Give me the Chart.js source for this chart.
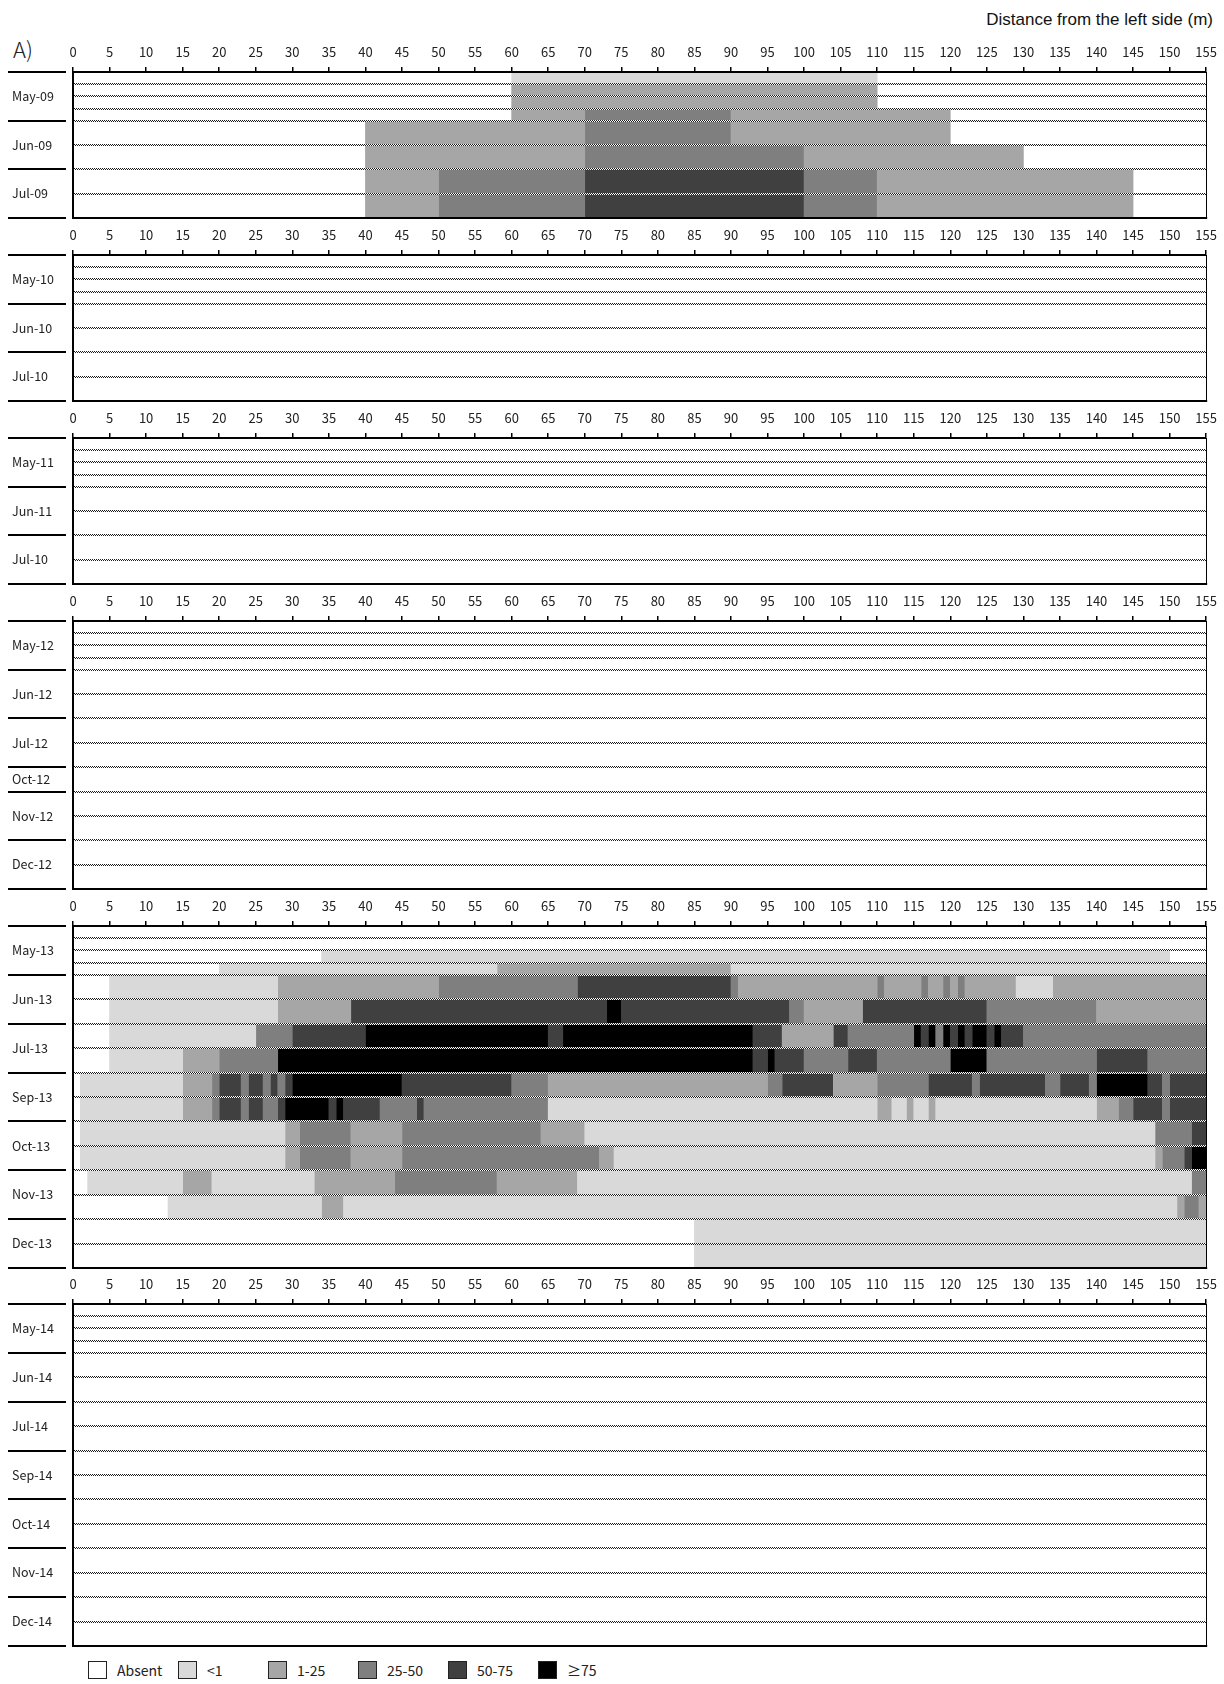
<!DOCTYPE html>
<html>
<head>
<meta charset="utf-8">
<title>Cover along the transect, 2009–2014</title>
<script src="https://cdn.jsdelivr.net/npm/chart.js@4.4.1/dist/chart.umd.min.js"></script>
<style>
  html, body { margin: 0; padding: 0; background: #fff; }
  body { width: 1224px; height: 1684px; position: relative; overflow: hidden;
         font-family: 'Noto Sans CJK JP', 'Noto Sans', sans-serif; }
  canvas { position: absolute; left: 0; }
  #axisTitle { position: absolute; right: 11px; top: 10px; line-height: 20px;
               font-family: 'Liberation Sans', Arial, sans-serif; font-size: 17px; color: #111; }
  #panelTag { position: absolute; left: 13px; top: 35px; line-height: 26px;
              font-size: 22px; font-weight: 300; color: #222; }
  #legend { position: absolute; left: 0; top: 1661px; width: 1224px; height: 20px; }
  .item { position: absolute; top: 0; height: 18px; }
  .swatch { position: absolute; left: 0; top: 0; width: 19px; height: 18px;
            box-sizing: border-box; border: 1px solid #222; }
  .text { position: absolute; left: 29px; top: -2px; line-height: 22px; font-size: 14px;
          color: #222; white-space: nowrap; }
</style>
</head>
<body>
<div id="axisTitle">Distance from the left side (m)</div>
<div id="panelTag">A)</div>
<div id="legend"></div>

<script>
// ---- tick labels and cover classes ----
const distanceTicks = [0, 5, 10, 15, 20, 25, 30, 35, 40, 45, 50, 55, 60, 65, 70, 75,
                       80, 85, 90, 95, 100, 105, 110, 115, 120, 125, 130, 135, 140, 145, 150, 155];
const coverClasses = ['Absent', '<1', '1-25', '25-50', '50-75', '\u226575'];

// ---- survey months per year and number of survey rows in each month ----
const months2009 = ['May-09', 'Jun-09', 'Jul-09'];
const surveys2009 = [4, 2, 2];
const months2010 = ['May-10', 'Jun-10', 'Jul-10'];
const surveys2010 = [4, 2, 2];
const months2011 = ['May-11', 'Jun-11', 'Jul-10'];
const surveys2011 = [4, 2, 2];
const months2012 = ['May-12', 'Jun-12', 'Jul-12', 'Oct-12', 'Nov-12', 'Dec-12'];
const surveys2012 = [4, 2, 2, 1, 2, 2];
const months2013 = ['May-13', 'Jun-13', 'Jul-13', 'Sep-13', 'Oct-13', 'Nov-13', 'Dec-13'];
const surveys2013 = [4, 2, 2, 2, 2, 2, 2];
const months2014 = ['May-14', 'Jun-14', 'Jul-14', 'Sep-14', 'Oct-14', 'Nov-14', 'Dec-14'];
const surveys2014 = [4, 2, 2, 2, 2, 2, 2];

// ---- cover segments per survey row: [from m, to m, class index] (absent stretches omitted) ----
const cover2009 = [
  [[60, 110, 1]],
  [[60, 110, 2]],
  [[60, 110, 2]],
  [[60, 70, 2], [70, 90, 3], [90, 120, 2]],
  [[40, 70, 2], [70, 90, 3], [90, 120, 2]],
  [[40, 70, 2], [70, 100, 3], [100, 130, 2]],
  [[40, 50, 2], [50, 70, 3], [70, 100, 4], [100, 110, 3], [110, 145, 2]],
  [[40, 50, 2], [50, 70, 3], [70, 100, 4], [100, 110, 3], [110, 145, 2]]
];
const cover2010 = [[], [], [], [], [], [], [], []];
const cover2011 = [[], [], [], [], [], [], [], []];
const cover2012 = [[], [], [], [], [], [], [], [], [], [], [], [], []];
const cover2013 = [
  // May-13
  [],
  [],
  [[34, 150, 1]],
  [[20, 58, 1], [58, 90, 2], [90, 155, 1]],
  // Jun-13
  [[5, 28, 1], [28, 50, 2], [50, 69, 3], [69, 90, 4], [90, 91, 3], [91, 110, 2], [110, 111, 3],
   [111, 116, 2], [116, 117, 3], [117, 119, 2], [119, 120, 3], [120, 121, 2], [121, 122, 3],
   [122, 129, 2], [129, 134, 1], [134, 155, 2]],
  [[5, 28, 1], [28, 38, 2], [38, 73, 4], [73, 75, 5], [75, 98, 4], [98, 100, 3], [100, 108, 2],
   [108, 125, 4], [125, 140, 3], [140, 155, 2]],
  // Jul-13
  [[5, 25, 1], [25, 30, 3], [30, 40, 4], [40, 65, 5], [65, 67, 4], [67, 93, 5], [93, 97, 4],
   [97, 104, 2], [104, 106, 4], [106, 115, 3], [115, 116, 5], [116, 117, 4], [117, 118, 5],
   [118, 119, 3], [119, 120, 5], [120, 121, 4], [121, 122, 5], [122, 123, 4], [123, 125, 5],
   [125, 126, 4], [126, 127, 5], [127, 130, 4], [130, 155, 3]],
  [[5, 15, 1], [15, 20, 2], [20, 28, 3], [28, 93, 5], [93, 95, 4], [95, 96, 5], [96, 100, 4],
   [100, 106, 3], [106, 110, 4], [110, 120, 3], [120, 125, 5], [125, 140, 3], [140, 147, 4],
   [147, 155, 3]],
  // Sep-13
  [[1, 15, 1], [15, 19, 2], [19, 20, 3], [20, 23, 4], [23, 24, 3], [24, 26, 4], [26, 27, 3],
   [27, 28, 4], [28, 29, 3], [29, 30, 4], [30, 45, 5], [45, 60, 4], [60, 65, 3], [65, 95, 2],
   [95, 97, 3], [97, 104, 4], [104, 110, 2], [110, 117, 3], [117, 123, 4], [123, 124, 3],
   [124, 133, 4], [133, 135, 3], [135, 139, 4], [139, 140, 3], [140, 147, 5], [147, 149, 4],
   [149, 150, 3], [150, 155, 4]],
  [[1, 15, 1], [15, 19, 2], [19, 20, 3], [20, 23, 4], [23, 24, 3], [24, 26, 4], [26, 28, 3],
   [28, 29, 4], [29, 35, 5], [35, 36, 4], [36, 37, 5], [37, 42, 4], [42, 47, 3], [47, 48, 4],
   [48, 65, 3], [65, 110, 1], [110, 112, 2], [112, 114, 1], [114, 115, 2], [115, 117, 1],
   [117, 118, 2], [118, 140, 1], [140, 143, 2], [143, 145, 3], [145, 149, 4], [149, 150, 3],
   [150, 155, 4]],
  // Oct-13
  [[1, 29, 1], [29, 31, 2], [31, 38, 3], [38, 45, 2], [45, 64, 3], [64, 70, 2], [70, 148, 1],
   [148, 153, 3], [153, 155, 4]],
  [[1, 29, 1], [29, 31, 2], [31, 38, 3], [38, 45, 2], [45, 72, 3], [72, 74, 2], [74, 148, 1],
   [148, 149, 2], [149, 152, 3], [152, 153, 4], [153, 155, 5]],
  // Nov-13
  [[2, 15, 1], [15, 19, 2], [19, 33, 1], [33, 44, 2], [44, 58, 3], [58, 69, 2], [69, 153, 1],
   [153, 155, 3]],
  [[13, 34, 1], [34, 37, 2], [37, 151, 1], [151, 152, 2], [152, 154, 3], [154, 155, 2]],
  // Dec-13
  [[85, 155, 1]],
  [[85, 155, 1]]
];
const cover2014 = [[], [], [], [], [], [], [], [], [], [], [], [], [], [], [], []];

// ---- styling ----
const coverColors = ['#ffffff', '#d9d9d9', '#a6a6a6', '#7f7f7f', '#404040', '#000000'];
const labelFont = "'Noto Sans CJK JP', 'Noto Sans', sans-serif";
const panelTops = [72, 255, 438, 621, 926, 1304];   // pixel row of each panel's top axis
const monthPx = 48.8;                                // height of one survey month
const axisBand = 40;                                 // space above the plot for the distance axis
const padBottom = 12;

const panels = [
  { months: months2009, surveys: surveys2009, cover: cover2009 },
  { months: months2010, surveys: surveys2010, cover: cover2010 },
  { months: months2011, surveys: surveys2011, cover: cover2011 },
  { months: months2012, surveys: surveys2012, cover: cover2012 },
  { months: months2013, surveys: surveys2013, cover: cover2013 },
  { months: months2014, surveys: surveys2014, cover: cover2014 }
];

// rows of a month split it in quarters (4 surveys) or halves (otherwise)
function rowLayout(surveys) {
  const rows = [];
  const monthEdges = [0];
  let y = 0;
  surveys.forEach(n => {
    const h = n === 4 ? 0.25 : 0.5;
    for (let k = 0; k < n; k++) {
      rows.push({ center: y + h / 2, h: h, top: y });
      y += h;
    }
    monthEdges.push(y);
  });
  return { rows, monthEdges, total: y };
}

function drawPanel(panel, top) {
  const { rows, monthEdges, total } = rowLayout(panel.surveys);
  const plotH = Math.round(total * monthPx);
  const unitPx = plotH / total;
  const monthCenters = monthEdges.slice(0, -1).map((e, i) => (e + monthEdges[i + 1]) / 2);
  const rowEdges = rows.map(r => r.top).slice(1);

  const datasets = [];
  [0.25, 0.5].forEach(h => {
    for (let c = 1; c < coverClasses.length; c++) {
      const data = [];
      panel.cover.forEach((segs, r) => {
        if (rows[r].h !== h) return;
        segs.forEach(([from, to, k]) => {
          if (k === c) data.push({ x: [from, to], y: rows[r].center });
        });
      });
      if (data.length) {
        datasets.push({
          label: coverClasses[c],
          data: data,
          backgroundColor: coverColors[c],
          borderWidth: 0,
          borderSkipped: false,
          grouped: false,
          barThickness: h * unitPx
        });
      }
    }
  });

  const canvas = document.createElement('canvas');
  canvas.width = 1224;
  canvas.height = axisBand + plotH + padBottom;
  canvas.style.top = (top - axisBand) + 'px';
  document.body.appendChild(canvas);

  const frame = {
    id: 'frame',
    afterDatasetsDraw(chart) {
      const ctx = chart.ctx;
      const ys = chart.scales.y;
      const a = chart.chartArea;
      const x0 = Math.round(a.left) + 1;
      const x1 = Math.round(a.right);
      ctx.save();
      rowEdges.forEach(v => {
        const py = Math.round(ys.getPixelForValue(v));
        ctx.fillStyle = '#ffffff';
        ctx.fillRect(x0, py - 1, x1 - x0, 2);
        ctx.fillStyle = '#1e1e1e';
        for (let x = x0; x < x1; x += 2) {
          ctx.fillRect(x, py - 1, 1, 1);
          if (x + 1 < x1) ctx.fillRect(x + 1, py, 1, 1);
        }
      });
      ctx.restore();
    },
    afterDraw(chart) {
      const ctx = chart.ctx;
      const ys = chart.scales.y;
      const a = chart.chartArea;
      ctx.save();
      ctx.strokeStyle = '#000';
      ctx.lineWidth = 2;
      monthEdges.forEach(v => {
        const py = Math.round(ys.getPixelForValue(v));
        ctx.beginPath();
        ctx.moveTo(8, py);
        ctx.lineTo(66, py);
        ctx.stroke();
      });
      ctx.beginPath();
      ctx.moveTo(a.left - 1, Math.round(a.bottom));
      ctx.lineTo(a.right + 1, Math.round(a.bottom));
      ctx.stroke();
      ctx.lineWidth = 1;
      ctx.beginPath();
      ctx.moveTo(Math.round(a.right) + 0.5, a.top);
      ctx.lineTo(Math.round(a.right) + 0.5, a.bottom);
      ctx.stroke();
      ctx.restore();
    }
  };

  new Chart(canvas, {
    type: 'bar',
    data: { datasets: datasets },
    plugins: [frame],
    options: {
      indexAxis: 'y',
      responsive: false,
      animation: false,
      events: [],
      layout: { padding: { left: 12, right: 15, top: 0, bottom: padBottom } },
      plugins: { legend: { display: false }, tooltip: { enabled: false } },
      scales: {
        x: {
          type: 'linear',
          position: 'top',
          min: 0,
          max: 155,
          offset: false,
          afterBuildTicks: s => { s.ticks = distanceTicks.map(v => ({ value: v })); },
          afterFit: s => { s.height = axisBand; },
          ticks: { autoSkip: false, maxRotation: 0, minRotation: 0, padding: 7, color: '#222',
                   font: { family: labelFont, size: 13 } },
          grid: { drawOnChartArea: false, drawTicks: true, tickLength: 5, color: '#000', lineWidth: 1.5,
                  offset: false },
          border: { display: true, color: '#000', width: 2, z: 1 }
        },
        y: {
          type: 'linear',
          reverse: true,
          min: 0,
          max: total,
          offset: false,
          afterBuildTicks: s => { s.ticks = monthCenters.map(v => ({ value: v })); },
          afterFit: s => { s.width = 61; },
          ticks: { autoSkip: false, crossAlign: 'far', color: '#222',
                   font: { family: labelFont, size: 12.5 },
                   callback: (v, i) => panel.months[i] },
          grid: { display: false, offset: false },
          border: { display: true, color: '#000', width: 2, z: 1 }
        }
      }
    }
  });
}

panels.forEach((p, i) => drawPanel(p, panelTops[i]));

// ---- legend ----
const legend = document.getElementById('legend');
coverClasses.forEach((name, i) => {
  const item = document.createElement('div');
  item.className = 'item';
  item.style.left = (88 + 90 * i) + 'px';
  const sw = document.createElement('div');
  sw.className = 'swatch';
  sw.style.background = coverColors[i];
  const tx = document.createElement('div');
  tx.className = 'text';
  tx.textContent = name;
  item.appendChild(sw);
  item.appendChild(tx);
  legend.appendChild(item);
});
</script>
</body>
</html>
